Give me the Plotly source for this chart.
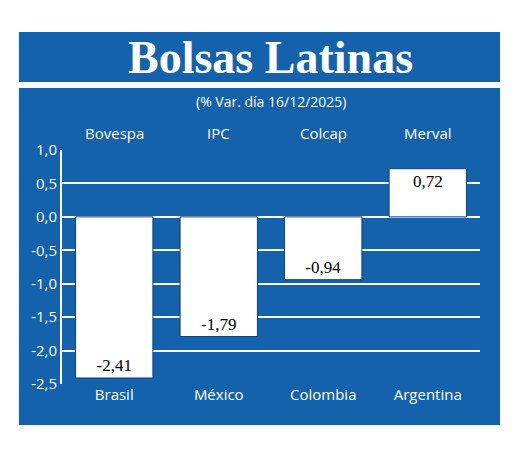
import plotly.graph_objects as go

countries = ["Brasil", "México", "Colombia", "Argentina"]
indices = ["Bovespa", "IPC", "Colcap", "Merval"]
values = [-2.41, -1.79, -0.94, 0.72]
yticks = [1.0, 0.5, 0.0, -0.5, -1.0, -1.5, -2.0, -2.5]
ytick_text = ["1,0", "0,5", "0,0", "-0,5", "-1,0", "-1,5", "-2,0", "-2,5"]

BLUE = "#1462ac"
labels = [f"{v:.2f}".replace(".", ",") for v in values]

fig = go.Figure(go.Bar(
    x=countries, y=values, width=0.74,
    marker=dict(color="white", line=dict(color="#0d3f73", width=1)),
    text=labels, textposition="inside", insidetextanchor="end",
    textfont=dict(family="Liberation Serif", size=17, color="black"),
    textangle=0, cliponaxis=False,
))

shapes = [
    dict(type="rect", xref="paper", yref="paper", x0=-0.103, x1=1.048, y0=1.291, y1=1.504,
         fillcolor=BLUE, line=dict(width=0), layer="below"),
    dict(type="rect", xref="paper", yref="paper", x0=-0.103, x1=1.048, y0=-0.175, y1=1.265,
         fillcolor=BLUE, line=dict(width=0), layer="below"),
]
ann = [
    dict(text="<b>Bolsas Latinas</b>", x=0.498, y=1.395, xref="paper", yref="paper",
         yanchor="middle", showarrow=False,
         font=dict(family="Liberation Serif", size=46, color="white")),
    dict(text="(% Var. día 16/12/2025)", x=0.5, y=1.209, xref="paper", yref="paper",
         yanchor="middle", showarrow=False,
         font=dict(family="Open Sans", size=14, color="white")),
]
for c, n in zip(countries, indices):
    ann.append(dict(text=n, x=c, y=1.073, xref="x", yref="paper", yanchor="middle",
                    showarrow=False,
                    font=dict(family="Open Sans", size=15, color="white")))

fig.update_layout(
    width=520, height=450, margin=dict(l=54, r=48, t=142, b=74),
    paper_bgcolor="white", plot_bgcolor=BLUE, showlegend=False,
    shapes=shapes, annotations=ann,
    xaxis=dict(showgrid=False, showline=False, ticks="", ticklabelstandoff=0,
               tickfont=dict(family="Open Sans", size=15, color="white")),
    yaxis=dict(range=[-2.5, 1.0], tickvals=yticks, ticktext=ytick_text,
               showgrid=True, gridcolor="white", gridwidth=2,
               zeroline=True, zerolinecolor="white", zerolinewidth=2,
               showline=True, linecolor="white", linewidth=2,
               tickfont=dict(family="Open Sans", size=15, color="white")),
)
fig.write_html("out.html")
